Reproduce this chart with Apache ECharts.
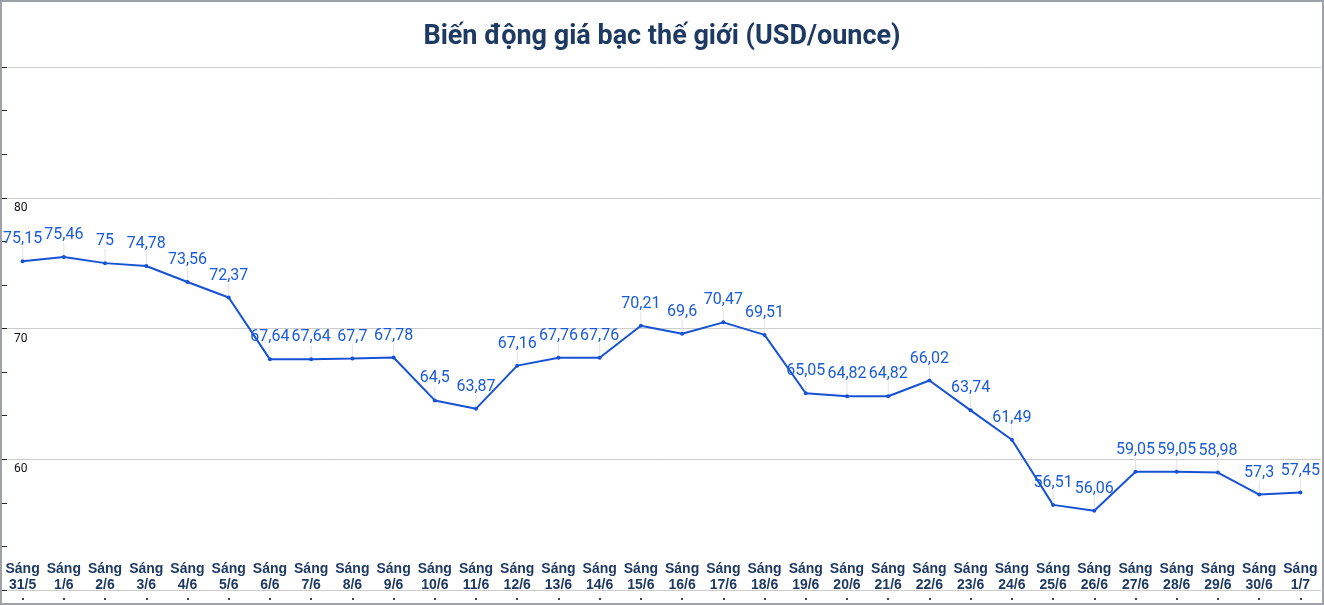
<!DOCTYPE html>
<html>
<head>
<meta charset="utf-8">
<script src="https://cdn.jsdelivr.net/npm/echarts@6/dist/echarts.min.js"></script>
<style>
    html, body { margin: 0; padding: 0; background: #fff; }
    #frame {
        width: 1324px;
        height: 605px;
        box-sizing: border-box;
        border: 2px solid #9ea2a8;
    }
    #lineChart { width: 1320px; height: 601px; }
</style>
</head>
<body>
<div id="frame"><div id="lineChart"></div></div>
<script>
    const title = 'Biến động giá bạc thế giới (USD/ounce)';

    const days = [
        '31/5', '1/6', '2/6', '3/6', '4/6', '5/6', '6/6', '7/6', '8/6', '9/6',
        '10/6', '11/6', '12/6', '13/6', '14/6', '15/6', '16/6', '17/6', '18/6', '19/6',
        '20/6', '21/6', '22/6', '23/6', '24/6', '25/6', '26/6', '27/6', '28/6', '29/6',
        '30/6', '1/7'
    ];

    const prices = [
        75.15, 75.46, 75, 74.78, 73.56, 72.37, 67.64, 67.64, 67.7, 67.78,
        64.5, 63.87, 67.16, 67.76, 67.76, 70.21, 69.6, 70.47, 69.51, 65.05,
        64.82, 64.82, 66.02, 63.74, 61.49, 56.51, 56.06, 59.05, 59.05, 58.98,
        57.3, 57.45
    ];

    const yTicks = [60, 70, 80];

    const lineColor = '#1652d4';
    const navy = '#1d3a63';

    const categories = days.map(d => 'Sáng\n' + d);

    const option = {
        animation: false,
        textStyle: { fontFamily: 'Roboto, "Noto Sans", sans-serif' },
        title: {
            text: title,
            left: 'center',
            top: 17,
            textStyle: {
                color: navy,
                fontSize: 27,
                fontWeight: 'bold',
                fontFamily: 'Roboto, sans-serif'
            }
        },
        grid: {
            left: 0,
            right: 1,
            top: 65,
            bottom: 13,
            containLabel: false
        },
        xAxis: {
            type: 'category',
            data: categories,
            boundaryGap: true,
            offset: 8,
            axisLine: { show: false },
            axisTick: {
                show: true,
                alignWithLabel: true,
                length: 2,
                lineStyle: { color: '#444', width: 2 }
            },
            axisLabel: {
                inside: true,
                interval: 0,
                margin: 5,
                color: navy,
                fontFamily: '"Liberation Sans", Arial, sans-serif',
                fontWeight: 'bold',
                fontSize: 14,
                lineHeight: 16,
                verticalAlign: 'bottom'
            },
            splitLine: { show: false }
        },
        yAxis: {
            type: 'value',
            min: 50,
            max: 90,
            interval: 10,
            axisLine: { show: false },
            axisTick: {
                show: true,
                inside: true,
                length: 5,
                lineStyle: { color: '#222', width: 1 }
            },
            minorTick: {
                show: true,
                splitNumber: 3,
                length: 5,
                lineStyle: { color: '#222', width: 1 }
            },
            axisLabel: {
                inside: true,
                margin: 12,
                color: '#111',
                fontSize: 12,
                verticalAlign: 'top',
                padding: [4, 0, 0, 0],
                formatter: v => (yTicks.indexOf(v) >= 0 ? String(v) : '')
            },
            splitLine: { show: true, lineStyle: { color: '#cccccc', width: 1 } }
        },
        series: [{
            type: 'line',
            data: prices,
            symbol: 'circle',
            symbolSize: 4,
            itemStyle: { color: lineColor },
            lineStyle: { color: lineColor, width: 2 },
            label: {
                show: true,
                position: 'top',
                distance: 6,
                color: '#1a5bd6',
                fontSize: 16,
                formatter: p => String(p.value).replace('.', ',')
            },
            labelLayout: { dy: -6 },
            labelLine: {
                show: true,
                length2: 0,
                lineStyle: { color: '#e2e2e2', width: 1 }
            }
        }]
    };

    const myChart = echarts.init(document.getElementById('lineChart'));
    myChart.setOption(option);
</script>
</body>
</html>
